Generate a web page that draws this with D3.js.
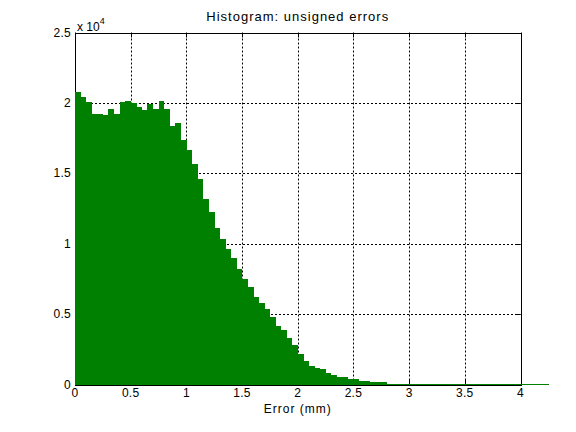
<!DOCTYPE html>
<html>
<head>
<meta charset="utf-8">
<script src="https://cdn.jsdelivr.net/npm/d3@7"></script>
<style>
  body { margin: 0; background: #fff; }
  text { font-family: "Liberation Sans", Arial, Helvetica, sans-serif; fill: #000; }
</style>
</head>
<body>
<div id="chart"></div>
<script>
// histogram bins, 0.05 mm wide, starting at 0
const binWidth = 0.05
const counts = [
  20800, 20400, 20050, 19200, 19200, 19130, 19600, 19200, 20030, 20100,
  19980, 19700, 19480, 19890, 19550, 20100, 19600, 18350, 18540, 17400,
  16690, 15630, 14560, 13210, 12220, 11080, 10300, 9590, 8950, 8170,
  7460, 6890, 6250, 5820, 5330, 4760, 4190, 3840, 3270, 2840,
  2200, 1700, 1280, 1200, 1070, 850, 640, 500, 500, 360,
  360, 280, 280, 210, 210, 210, 70, 70, 70, 30,
  70, 70, 70, 20, 20, 20, 20, 20, 20, 20,
  20, 20, 20, 20, 20, 20, 20, 20, 20, 20,
  10, 10, 10, 10, 10
]
const xTicks = [0, 0.5, 1, 1.5, 2, 2.5, 3, 3.5, 4]
const yTicks = [0, 5000, 10000, 15000, 20000, 25000]
const yTickLabels = ["0", "0.5", "1", "1.5", "2", "2.5"]

const width = 576
const height = 432
const margin = { top: 32.5, right: 55.5, bottom: 47.5, left: 75 }

const svg = d3.select("#chart").append("svg")
  .attr("width", width)
  .attr("height", height)

const x = d3.scaleLinear().domain([0, 4]).range([margin.left, width - margin.right])
const y = d3.scaleLinear().domain([0, 25000]).range([height - margin.bottom, margin.top])

const bins = counts.map((c, i) => ({ x0: i * binWidth, x1: (i + 1) * binWidth, n: c }))

// grid (under the bars)
const grid = svg.append("g")
  .attr("stroke", "#000")
  .attr("stroke-width", 1)
  .attr("stroke-dasharray", "2,2")
grid.selectAll(".gx")
  .data(xTicks.slice(1, -1))
  .join("line")
    .attr("x1", d => Math.round(x(d)) + 0.5)
    .attr("x2", d => Math.round(x(d)) + 0.5)
    .attr("y1", y(0))
    .attr("y2", y(25000))
grid.selectAll(".gy")
  .data(yTicks.slice(1, -1))
  .join("line")
    .attr("y1", d => Math.round(y(d)) + 0.5)
    .attr("y2", d => Math.round(y(d)) + 0.5)
    .attr("x1", x(0))
    .attr("x2", x(4))

// box + inward ticks
const axes = svg.append("g").attr("stroke", "#000").attr("stroke-width", 1).attr("fill", "none")
axes.append("rect")
  .attr("x", Math.round(x(0)) + 0.5)
  .attr("y", Math.round(y(25000)) + 0.5)
  .attr("width", Math.round(x(4)) - Math.round(x(0)))
  .attr("height", Math.round(y(0)) - Math.round(y(25000)))

const tickLen = 5
xTicks.forEach(d => {
  const px = Math.round(x(d)) + 0.5
  axes.append("line").attr("x1", px).attr("x2", px).attr("y1", y(0)).attr("y2", y(0) - tickLen)
  axes.append("line").attr("x1", px).attr("x2", px).attr("y1", y(25000)).attr("y2", y(25000) + tickLen)
})
yTicks.forEach(d => {
  const py = Math.round(y(d)) + 0.5
  axes.append("line").attr("y1", py).attr("y2", py).attr("x1", x(0)).attr("x2", x(0) + tickLen)
  axes.append("line").attr("y1", py).attr("y2", py).attr("x1", x(4)).attr("x2", x(4) - tickLen)
})

// bars
svg.append("g")
  .attr("fill", "#008000")
  .selectAll("rect")
  .data(bins)
  .join("rect")
    .attr("x", d => x(d.x0))
    .attr("width", d => x(d.x1) - x(d.x0) + 0.3)
    .attr("y", d => y(d.n))
    .attr("height", d => y(0) - y(d.n))
    .attr("shape-rendering", "crispEdges")

// patch bottom edge runs past the axes
svg.append("line")
  .attr("x1", x(0))
  .attr("x2", x(bins[bins.length - 1].x1))
  .attr("y1", Math.round(y(0)) - 0.5)
  .attr("y2", Math.round(y(0)) - 0.5)
  .attr("stroke", "#008000")
  .attr("stroke-width", 1)

// tick labels
svg.append("g").selectAll("text")
  .data(xTicks)
  .join("text")
    .attr("x", d => x(d))
    .attr("y", y(0) + 12)
    .attr("text-anchor", "middle")
    .attr("font-size", "12px")
    .attr("letter-spacing", "0.3px")
    .text(d => d)

svg.append("g").selectAll("text")
  .data(yTicks)
  .join("text")
    .attr("x", x(0) - 4)
    .attr("y", d => y(d) + 4)
    .attr("text-anchor", "end")
    .attr("font-size", "12px")
    .attr("letter-spacing", "0.3px")
    .text((d, i) => yTickLabels[i])

// exponent
const expo = svg.append("text")
  .attr("x", x(0) + 2)
  .attr("y", y(25000) - 2)
  .attr("font-size", "12px")
expo.append("tspan").text("x 10")
expo.append("tspan").attr("dy", -7).attr("font-size", "9px").text("4")

// title and x label
svg.append("text")
  .attr("x", (x(0) + x(4)) / 2)
  .attr("y", 21)
  .attr("text-anchor", "middle")
  .attr("font-size", "13px")
  .attr("letter-spacing", "1px")
  .text("Histogram: unsigned errors")

svg.append("text")
  .attr("x", (x(0) + x(4)) / 2)
  .attr("y", 413)
  .attr("text-anchor", "middle")
  .attr("font-size", "12px")
  .attr("letter-spacing", "1px")
  .text("Error (mm)")
</script>
</body>
</html>
